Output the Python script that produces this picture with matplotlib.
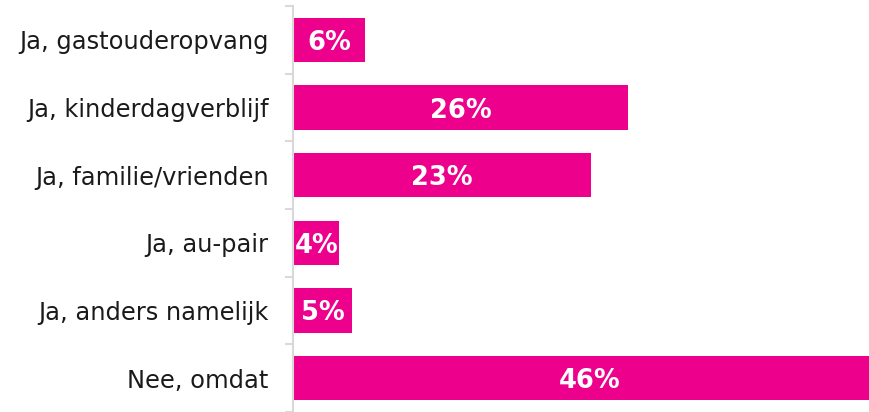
import matplotlib
matplotlib.use("Agg")
import matplotlib.pyplot as plt
import numpy as np

plt.rcParams["font.family"] = ["DejaVu Sans"]

categories = ["Ja, gastouderopvang", "Ja, kinderdagverblijf", "Ja, familie/vrienden",
              "Ja, au-pair", "Ja, anders namelijk", "Nee, omdat"]
values = [5.6, 26.0, 23.1, 3.6, 4.6, 46.0]
labels = ["6%", "26%", "23%", "4%", "5%", "46%"]

W, H = 869, 412
fig = plt.figure(figsize=(W / 100, H / 100), dpi=100)
ax_left = 293 / W
ax_top = 6 / H
ax = fig.add_axes([ax_left, 0, 1 - ax_left, 1 - ax_top])

color = "#EC008C"
y = np.arange(len(categories))
bars = ax.barh(y, values, height=0.655, color=color, zorder=2)

band = 68.6
nb = (H - 6) / band
ax.set_ylim(-0.5 + nb, -0.5)
ax.set_xlim(0, (W - 293) / 12.9)

for b, v, lab in zip(bars, values, labels):
    t = ax.text(v / 2, b.get_y() + b.get_height() / 2, lab, ha="center",
                va="center_baseline", color="white", fontsize=18.5,
                fontweight="bold", zorder=3)
    t.set_clip_path(b)

ax.set_yticks(y)
ax.set_yticklabels(categories, fontsize=17.4, color="#1a1a1a")
ax.set_yticks(np.arange(-0.5, len(categories) + 0.5, 1), minor=True)
ax.tick_params(axis="y", which="major", length=0, pad=17.5)
ax.tick_params(axis="y", which="minor", length=6, width=1.5, color="#d9d9d9")
ax.set_xticks([])
for s in ["top", "right", "bottom"]:
    ax.spines[s].set_visible(False)
ax.spines["left"].set_color("#d9d9d9")
ax.spines["left"].set_linewidth(1.5)

fig.savefig("out.png", dpi=100)
